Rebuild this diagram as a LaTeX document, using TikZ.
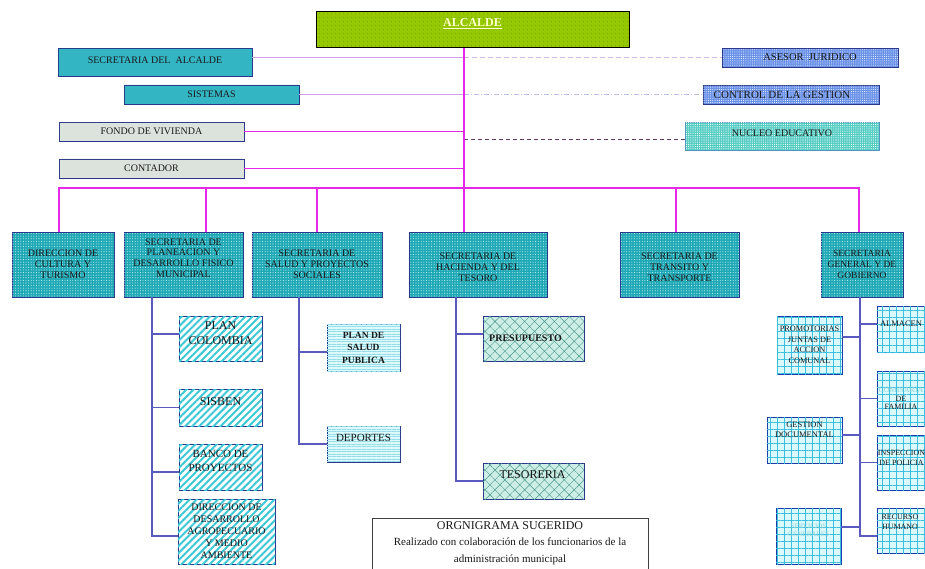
\documentclass[tikz,border=0pt]{standalone}
\usepackage{fontspec}
\setmainfont{Liberation Serif}
\usetikzlibrary{patterns.meta}
\definecolor{mag}{RGB}{232,40,232}
\definecolor{navyb}{RGB}{40,55,140}
\definecolor{alcg}{RGB}{150,200,0}
\definecolor{alcd}{RGB}{100,140,0}
\definecolor{teal1}{RGB}{55,185,200}
\definecolor{teal1d}{RGB}{25,140,160}
\definecolor{greyf}{RGB}{228,234,228}
\definecolor{greyd}{RGB}{140,160,140}
\definecolor{bluef}{RGB}{105,145,232}
\definecolor{nucf}{RGB}{85,205,195}
\definecolor{nucb}{RGB}{80,150,190}
\definecolor{lvf}{RGB}{30,168,182}
\definecolor{lvd}{RGB}{200,240,240}
\definecolor{stripe}{RGB}{60,200,215}
\definecolor{hlf}{RGB}{218,250,252}
\definecolor{hll}{RGB}{150,220,232}
\definecolor{hatf}{RGB}{205,238,228}
\definecolor{hatl}{RGB}{70,150,140}
\definecolor{gridl}{RGB}{60,190,225}
\definecolor{gridb}{RGB}{30,60,170}
\definecolor{lvio}{RGB}{210,160,235}
\definecolor{pinkd}{RGB}{220,180,235}
\definecolor{ddl}{RGB}{190,190,235}
\definecolor{darkd}{RGB}{100,55,100}
\definecolor{subl}{RGB}{90,90,190}
\definecolor{alct}{RGB}{255,255,204}
\definecolor{lightt}{RGB}{140,210,215}
\definecolor{txtc}{RGB}{25,25,25}
\newcommand\bx[8]{\node[#1, minimum width=#5pt, minimum height=#6pt] (#2) at (#3,#4) {};
  \node[txt, #7] (#2t) at (#3,#4) {#8};}
\begin{document}
\begin{tikzpicture}[x=1pt, y=-1pt,
  base/.style={draw=navyb, line width=0.9pt, inner sep=0pt},
  alcbox/.style={draw=black, line width=1pt, inner sep=0pt, fill=alcg, postaction={pattern={Dots[distance=4pt,radius=0.45pt]}, pattern color=alcd}},
  tealbox/.style={base, fill=teal1, postaction={pattern={Dots[distance=2pt,radius=0.4pt]}, pattern color=teal1d}},
  greybox/.style={base, fill=greyf, postaction={pattern={Dots[distance=2pt,radius=0.45pt]}, pattern color=greyd}},
  bluebox/.style={base, fill=bluef, postaction={pattern={Dots[distance=2.2pt,radius=0.5pt]}, pattern color=white}},
  nucbox/.style={base, draw=nucb, fill=nucf, postaction={pattern={Dots[distance=2.2pt,radius=0.55pt]}, pattern color=white}},
  lvbox/.style={base, fill=lvf, postaction={pattern={Dots[distance=2.6pt,radius=0.55pt]}, pattern color=lvd}},
  stbox/.style={base, fill=white, postaction={pattern={Lines[angle=45,distance=5pt,line width=2pt]}, pattern color=stripe}},
  hlbox/.style={base, fill=hlf, postaction={pattern={Lines[angle=0,distance=2.5pt,line width=0.6pt]}, pattern color=hll}},
  hatbox/.style={base, fill=hatf, postaction={pattern={Hatch[angle=45,distance=7pt,line width=0.4pt]}, pattern color=hatl}},
  gridbox/.style={base, draw=gridb, fill=hlf, postaction={pattern={Hatch[angle=0,distance=7pt,line width=0.7pt]}, pattern color=gridl}},
  capbox/.style={draw=black!75, line width=0.8pt, fill=white, align=center, inner xsep=2pt, inner ysep=3pt, text=txtc, font=\fontsize{11}{16.5}\selectfont},
  txt/.style={align=center, inner sep=0pt, text=txtc, font=\fontsize{10}{10.8}\selectfont},
  mainln/.style={draw=mag, line width=2.4pt, line join=miter},
  thinmag/.style={draw=mag, line width=1pt},
  lviol/.style={draw=lvio, line width=1pt},
  pinkdash/.style={draw=pinkd, line width=0.9pt, dash pattern=on 5pt off 3pt},
  ddash/.style={draw=ddl, line width=0.9pt, dash pattern=on 5pt off 2pt on 1pt off 2pt},
  darkdash/.style={draw=darkd, line width=1pt, dash pattern=on 4pt off 3pt},
  subln/.style={draw=subl, line width=1.3pt}
]
\useasboundingbox (0,0) rectangle (925,569);
\clip (0,0) rectangle (925,569);
\fill[white] (0,0) rectangle (925,569);

% top level
\bx{alcbox}{alc}{472.5}{30}{313}{36}{font=\bfseries\fontsize{12}{12}\selectfont, text=alct, yshift=6pt}{\underline{ALCALDE}}
\bx{tealbox}{secalc}{155}{62}{194}{28}{yshift=2pt}{SECRETARIA DEL\ \ ALCALDE}
\bx{tealbox}{sist}{211.5}{94.5}{175}{19}{}{SISTEMAS}
\bx{greybox}{fondo}{151.5}{131.5}{185}{19}{}{FONDO DE VIVIENDA}
\bx{greybox}{contador}{151.5}{168.5}{185}{19}{}{CONTADOR}
\bx{bluebox}{asesor}{810}{57.5}{176}{19}{font=\fontsize{10.5}{11}\selectfont}{ASESOR\ \ JURIDICO}
\bx{bluebox}{control}{791}{94.5}{176}{19}{font=\fontsize{11}{11}\selectfont, xshift=-9pt}{CONTROL DE LA GESTION}
\bx{nucbox}{nucleo}{782}{136}{194}{28}{yshift=3pt}{NUCLEO EDUCATIVO}

% second level
\bx{lvbox}{dir}{63}{264.5}{102}{65}{}{DIRECCION DE\\CULTURA Y\\TURISMO}
\bx{lvbox}{plan}{183.5}{264.5}{119}{65}{yshift=6.5pt}{SECRETARIA DE\\PLANEACION Y\\DESARROLLO FISICO\\MUNICIPAL}
\bx{lvbox}{salud}{317}{264.5}{130}{65}{}{SECRETARIA DE\\SALUD Y PROYECTOS\\SOCIALES}
\bx{lvbox}{hac}{478}{264.5}{138}{65}{yshift=-2.5pt}{SECRETARIA DE\\HACIENDA Y DEL\\TESORO}
\bx{lvbox}{tran}{679.5}{264.5}{119}{65}{yshift=-2.5pt}{SECRETARIA DE\\TRANSITO Y\\TRANSPORTE}
\bx{lvbox}{gen}{862}{264.5}{82}{65}{font=\fontsize{9.5}{10.8}\selectfont}{SECRETARIA\\GENERAL Y DE\\GOBIERNO}

% planeacion
\bx{stbox}{pcol}{220.5}{338.5}{83}{45}{font=\fontsize{12}{15}\selectfont, yshift=5pt}{PLAN\\COLOMBIA}
\bx{stbox}{sisben}{220.5}{407.5}{83}{37}{font=\fontsize{12}{15}\selectfont, yshift=5.5pt}{SISBEN}
\bx{stbox}{banco}{220.5}{467}{83}{46}{font=\fontsize{11}{14}\selectfont, yshift=6pt}{BANCO DE\\PROYECTOS}
\bx{stbox}{dirdes}{226.5}{531.5}{97}{65}{font=\fontsize{10}{12}\selectfont}{DIRECCION DE\\DESARROLLO\\AGROPECUARIO\\Y MEDIO\\AMBIENTE}

% salud
\bx{hlbox}{psalud}{363.5}{347.5}{73}{47}{font=\bfseries\fontsize{9.5}{12.5}\selectfont}{PLAN DE\\SALUD\\PUBLICA}
\bx{hlbox}{deportes}{363.5}{444}{73}{36}{font=\fontsize{11}{11}\selectfont, yshift=6pt}{DEPORTES}

% hacienda
\bx{hatbox}{presu}{533.5}{338.5}{101}{45}{font=\bfseries\fontsize{10}{10}\selectfont, xshift=-8pt}{PRESUPUESTO}
\bx{hatbox}{teso}{533.5}{481}{101}{36}{font=\fontsize{12}{12}\selectfont, yshift=6pt, xshift=-1pt}{TESORERIA}

% general
\bx{gridbox}{almacen}{903}{329}{52}{46}{font=\fontsize{8.5}{10}\selectfont, yshift=5pt, xshift=-2pt}{ALMACEN}
\bx{gridbox}{comis}{903}{398.5}{52}{55}{font=\fontsize{8}{8.6}\selectfont, xshift=-2pt}{\textcolor{lightt}{COMISARIA}\\DE\\FAMILIA}
\bx{gridbox}{insp}{903}{462.5}{52}{55}{font=\fontsize{8}{10}\selectfont, yshift=4.5pt, xshift=-1.5pt}{INSPECCION\\DE POLICIA}
\bx{gridbox}{recurso}{903}{530.5}{52}{45}{font=\fontsize{8}{10}\selectfont, yshift=8.5pt, xshift=-3pt}{RECURSO\\HUMANO}
\bx{gridbox}{promo}{809.5}{345}{65}{58}{font=\fontsize{8.3}{10.5}\selectfont}{PROMOTORIAS\\JUNTAS DE\\ACCION\\COMUNAL}
\bx{gridbox}{gestion}{804.5}{440}{75}{46}{font=\fontsize{8.5}{10}\selectfont, yshift=10pt}{GESTION\\DOCUMENTAL}
\bx{gridbox}{servicios}{808.5}{536}{65}{56}{font=\fontsize{7}{8}\selectfont, text=lightt, yshift=6pt}{SERVICIOS\\GENERALES}

% caption
\node[capbox, anchor=north, minimum width=276pt] (cap) at (510,518)
  {{\fontsize{12}{16.5}\selectfont ORGNIGRAMA SUGERIDO}\\Realizado con colaboración de los funcionarios de la\\administración municipal\\\rule{0pt}{12pt}};

% coordinates
\coordinate (trunk) at (464,48);
\coordinate (busL) at (59,188);
\coordinate (busR) at (859,188);
\coordinate (b2) at (206,188);
\coordinate (b5) at (676,188);
\coordinate (pv) at (152,297);
\coordinate (sv) at (299,297);
\coordinate (hv) at (456,297);
\coordinate (gv) at (860,297);
\coordinate (nucl) at ([yshift=-4pt]nucleo.west);

% side connectors
\draw[lviol] (secalc.east |- asesor.west) -- (trunk |- asesor.west);
\draw[pinkdash] (trunk |- asesor.west) -- (asesor.west);
\draw[lviol] (sist.east) -- (sist.east -| trunk);
\draw[ddash] (trunk |- control.west) -- (control.west);
\draw[thinmag] (fondo.east) -- (fondo.east -| trunk);
\draw[darkdash] (trunk |- nucl) -- (nucl);
\draw[thinmag] (contador.east) -- (contador.east -| trunk);

% main structure
\draw[mainln] (trunk) -- (trunk |- hac.north);
\draw[mainln] (busL |- dir.north) -- (busL) -- (busR) -- (busR |- gen.north);
\draw[mainln] (b2) -- (b2 |- plan.north);
\draw[mainln] (salud.north |- busL) -- (salud.north);
\draw[mainln] (b5) -- (b5 |- tran.north);

% planeacion branches
\coordinate (pcb) at ([yshift=4.5pt]pcol.west);
\coordinate (bab) at ([yshift=-5pt]banco.west);
\coordinate (ddb) at ([yshift=-4.5pt]dirdes.west);
\draw[subln] (pv) -- (pv |- ddb) -- (ddb);
\draw[subln] (pv |- pcb) -- (pcb);
\draw[subln] (pv |- sisben.west) -- (sisben.west);
\draw[subln] (pv |- bab) -- (bab);

% salud branches
\coordinate (psb) at ([yshift=-4.5pt]psalud.west);
\draw[subln] (sv) -- (sv |- deportes.west) -- (deportes.west);
\draw[subln] (sv |- psb) -- (psb);

% hacienda branches
\coordinate (prb) at ([yshift=4.5pt]presu.west);
\draw[subln] (hv) -- (hv |- teso.west) -- (teso.west);
\draw[subln] (hv |- prb) -- (prb);

% general branches
\coordinate (alb) at ([yshift=5pt]almacen.west);
\coordinate (reb) at ([yshift=-5.5pt]recurso.west);
\coordinate (prob) at ([yshift=8pt]promo.east);
\coordinate (geb) at ([yshift=5pt]gestion.east);
\coordinate (seb) at ([yshift=9pt]servicios.east);
\draw[subln] (gv) -- (gv |- reb) -- (reb);
\draw[subln] (gv |- alb) -- (alb);
\draw[subln] (gv |- comis.west) -- (comis.west);
\draw[subln] (gv |- insp.west) -- (insp.west);
\draw[subln] (prob) -- (gv |- prob);
\draw[subln] (geb) -- (gv |- geb);
\draw[subln] (seb) -- (gv |- seb);
\end{tikzpicture}
\end{document}
